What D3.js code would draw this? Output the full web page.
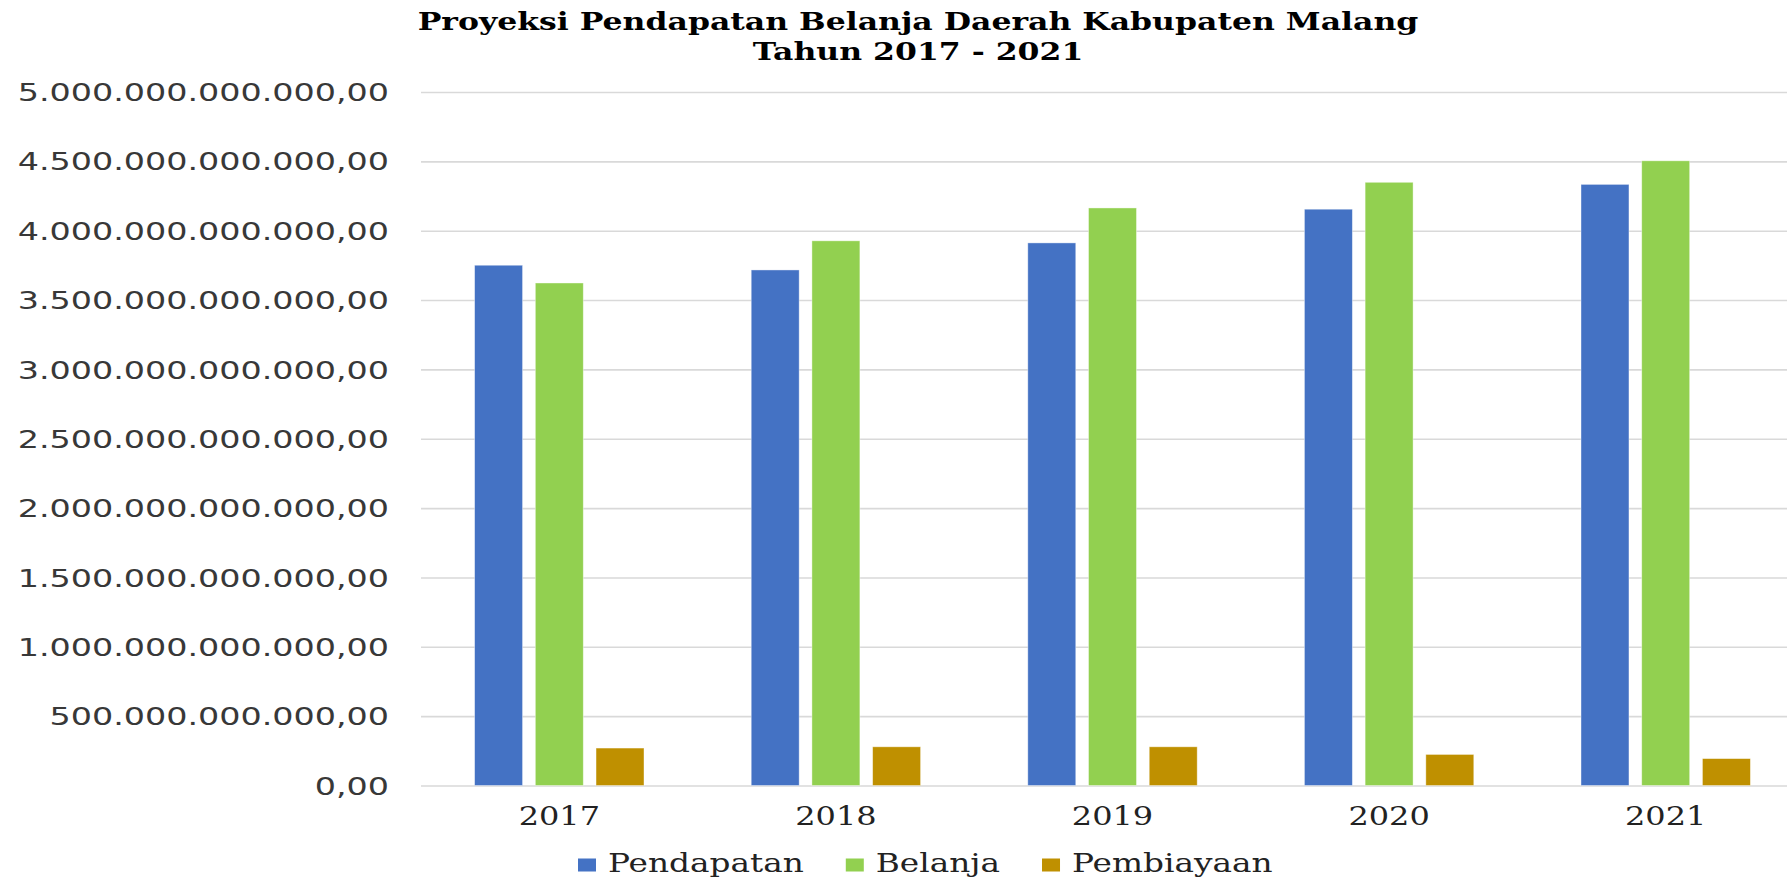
<!DOCTYPE html>
<html>
<head>
<meta charset="utf-8">
<script src="https://cdn.jsdelivr.net/npm/d3@7"></script>
<style>
  html, body { margin: 0; padding: 0; background: #fff; }
  svg { display: block; }
</style>
</head>
<body>
<svg id="chart"></svg>
<script>
// data
const years = ['2017', '2018', '2019', '2020', '2021'];
const series = ['Pendapatan', 'Belanja', 'Pembiayaan'];
const pendapatan = [3.751e12, 3.717e12, 3.912e12, 4.155e12, 4.334e12];
const belanja = [3.623e12, 3.927e12, 4.164e12, 4.349e12, 4.504e12];
const pembiayaan = [0.270e12, 0.279e12, 0.279e12, 0.224e12, 0.194e12];
const colors = ['#4472C4', '#92D050', '#BF9000'];
const titleLines = ['Proyeksi Pendapatan Belanja Daerah Kabupaten Malang', 'Tahun 2017 - 2021'];

const width = 1787, height = 880;
const margin = { left: 421, right: -17, top: 92, bottom: 94.5 };
const innerW = width - margin.left - margin.right;
const innerH = height - margin.top - margin.bottom;

const values = [pendapatan, belanja, pembiayaan];
const rows = years.map((y, i) => ({ year: y, vals: series.map((s, j) => ({ key: s, v: values[j][i], c: colors[j] })) }));

const svg = d3.select('#chart').attr('width', width).attr('height', height);
const chart = svg.append('g').attr('transform', `translate(${margin.left}, ${margin.top})`);

const x0 = d3.scaleBand().domain(years).range([0, innerW]).paddingInner(0.3876).paddingOuter(0.1938);
const x1 = d3.scaleBand().domain(series).range([0, x0.bandwidth()]).paddingInner(0.21);
const y = d3.scaleLinear().domain([0, 5e12]).range([innerH, 0]);

const idn = d3.formatLocale({ decimal: ',', thousands: '.', grouping: [3], currency: ['', ''] });
const fmt = idn.format(',.2f');

// gridlines + y labels
const yaxis = chart.append('g')
    .call(d3.axisLeft(y).ticks(10).tickSize(-innerW).tickFormat(fmt));
yaxis.select('.domain').remove();
yaxis.selectAll('.tick line').attr('stroke', '#d9d9d9').attr('stroke-width', 1.6);
yaxis.selectAll('.tick text')
    .attr('x', 0)
    .attr('dy', '0.36em')
    .attr('transform', 'translate(-32,0) scale(1.39,1)')
    .attr('font-family', '"DejaVu Sans", sans-serif')
    .attr('font-size', 24)
    .attr('fill', '#383838')
    .attr('text-anchor', 'end');

// bars
const groups = chart.selectAll('.grp').data(rows).join('g')
    .attr('class', 'grp')
    .attr('transform', d => `translate(${x0(d.year)},0)`);
groups.selectAll('rect').data(d => d.vals).join('rect')
    .attr('x', d => x1(d.key))
    .attr('width', x1.bandwidth())
    .attr('y', d => y(d.v))
    .attr('height', d => innerH - y(d.v))
    .attr('fill', d => d.c)
    .attr('stroke', '#fff')
    .attr('stroke-opacity', 0.5)
    .attr('stroke-width', 0.8);

// x labels
const xaxis = chart.append('g')
    .attr('transform', `translate(0, ${innerH})`)
    .call(d3.axisBottom(x0).tickSize(0));
xaxis.select('.domain').remove();
xaxis.selectAll('.tick text')
    .attr('y', 0)
    .attr('dy', 0)
    .attr('transform', 'translate(0,39.5) scale(1.23,1)')
    .attr('font-family', '"DejaVu Serif", serif')
    .attr('font-size', 26)
    .attr('fill', '#222');

// title
const tx = 918;
svg.selectAll('.title').data(titleLines).join('text')
    .attr('class', 'title')
    .attr('transform', (d, i) => `translate(${tx}, ${i === 0 ? 30 : 60}) scale(1.26,1)`)
    .attr('text-anchor', 'middle')
    .attr('font-family', '"DejaVu Serif", serif')
    .attr('font-weight', 'bold')
    .attr('font-size', 25)
    .attr('fill', '#000')
    .text(d => d);

// legend
const legend = svg.append('g');
let lx = 578;
const lsx = 1.26;
series.forEach((s, i) => {
    legend.append('rect')
        .attr('x', lx).attr('y', 858.5)
        .attr('width', 18).attr('height', 13)
        .attr('fill', colors[i]);
    const t = legend.append('text')
        .attr('transform', `translate(${lx + 30}, 872) scale(${lsx},1)`)
        .attr('font-family', '"DejaVu Serif", serif')
        .attr('font-size', 26)
        .attr('fill', '#222')
        .text(s);
    lx += 30 + t.node().getComputedTextLength() * lsx + 42;
});
</script>
</body>
</html>
